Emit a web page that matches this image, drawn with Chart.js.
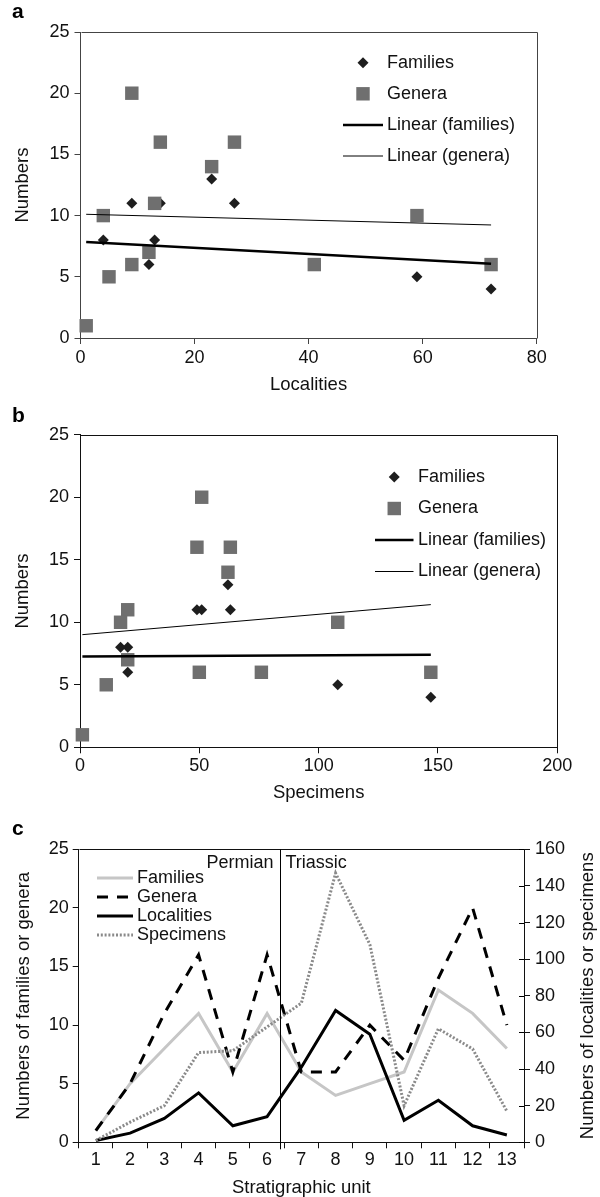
<!DOCTYPE html>
<html>
<head>
<meta charset="utf-8">
<script src="https://cdn.jsdelivr.net/npm/chart.js"></script>
<style>
body { margin: 0; background: #fff; }
#page { position: relative; width: 600px; height: 1197px; overflow: hidden; }
canvas { position: absolute; left: 0; }
</style>
</head>
<body>
<div id="page">
  <canvas id="chartA" width="600" height="400" style="top:0"></canvas>
  <canvas id="chartB" width="600" height="410" style="top:400px"></canvas>
  <canvas id="chartC" width="600" height="387" style="top:810px"></canvas>
</div>
<script>
//data, one value per stratigraphic unit
const units = ['1', '2', '3', '4', '5', '6', '7', '8', '9', '10', '11', '12', '13'];
const families = [1, 5, 8, 11, 6, 11, 6, 4, 5, 6, 13, 11, 8];
const genera = [1, 5, 11, 16, 6, 16, 6, 6, 10, 7, 14, 20, 10];
const localities = [1, 5, 13, 27, 9, 14, 41, 72, 59, 12, 23, 9, 4];
const specimens = [1, 11, 20, 49, 50, 63, 76, 147, 108, 20, 62, 51, 17];

//Permian / Triassic boundary, in stratigraphic units
const boundaryUnit = 6.38;
const periodLabels = ['Permian', 'Triassic'];

const fontFamily = "'Liberation Sans', Arial, Helvetica, sans-serif";
Chart.defaults.font.family = fontFamily;
Chart.defaults.font.size = 18;
Chart.defaults.color = '#111';
Chart.defaults.animation = false;
Chart.defaults.events = [];

const toPoints = (xs, ys) => xs.map((x, i) => ({ x: x, y: ys[i] }));

//least squares line between smallest and largest x
const trendLine = (xs, ys) => {
    const n = xs.length;
    const mx = xs.reduce((a, b) => a + b, 0) / n;
    const my = ys.reduce((a, b) => a + b, 0) / n;
    let sxy = 0, sxx = 0;
    xs.forEach((x, i) => {
        sxy += (x - mx) * (ys[i] - my);
        sxx += (x - mx) * (x - mx);
    });
    const slope = sxy / sxx;
    const lo = Math.min(...xs);
    const hi = Math.max(...xs);
    return [{ x: lo, y: my + slope * (lo - mx) }, { x: hi, y: my + slope * (hi - mx) }];
};

const px = (v) => Math.round(v) + 0.5;

//top and right side of the box
const framePlugin = (color) => ({
    id: 'frame',
    afterDatasetsDraw(chart) {
        const a = chart.chartArea;
        const c = chart.ctx;
        c.save();
        c.strokeStyle = color;
        c.lineWidth = 1;
        c.beginPath();
        c.moveTo(px(a.left), px(a.top));
        c.lineTo(px(a.right), px(a.top));
        c.lineTo(px(a.right), px(a.bottom));
        c.stroke();
        c.restore();
    }
});

//panel letter
const letterPlugin = (letter, y) => ({
    id: 'letter',
    afterDraw(chart) {
        const c = chart.ctx;
        c.save();
        c.font = 'bold 21px ' + fontFamily;
        c.fillStyle = '#000';
        c.textBaseline = 'alphabetic';
        c.fillText(letter, 12, y);
        c.restore();
    }
});

const drawMarker = (c, style, r, x, y, color) => {
    c.fillStyle = color;
    c.beginPath();
    if (style === 'rect') {
        const s = Math.SQRT1_2 * r;
        c.rect(x - s, y - s, 2 * s, 2 * s);
    } else {
        c.moveTo(x, y - r);
        c.lineTo(x + r, y);
        c.lineTo(x, y + r);
        c.lineTo(x - r, y);
        c.closePath();
    }
    c.fill();
};

//legend inside the plot area
const legendPlugin = (cfg) => ({
    id: 'insideLegend',
    afterDraw(chart) {
        const c = chart.ctx;
        const top = chart.chartArea.top;
        c.save();
        c.font = '18px ' + fontFamily;
        c.textBaseline = 'middle';
        chart.data.datasets.forEach((ds, i) => {
            const y = top + cfg.top + i * cfg.step;
            if (ds.showLine !== false && (ds.showLine || chart.config.type === 'line')) {
                c.strokeStyle = ds.borderColor;
                c.lineWidth = ds.borderWidth;
                c.setLineDash(ds.borderDash || []);
                c.beginPath();
                c.moveTo(cfg.x0, y);
                c.lineTo(cfg.x1, y);
                c.stroke();
                c.setLineDash([]);
            } else {
                drawMarker(c, ds.pointStyle, ds.pointRadius, (cfg.x0 + cfg.x1) / 2, y, ds.backgroundColor);
            }
            c.fillStyle = '#111';
            c.fillText(ds.label, cfg.textX, y);
        });
        c.restore();
    }
});

const scatterSets = (xs) => [{
    label: 'Families',
    data: toPoints(xs, families),
    pointStyle: 'rectRot',
    pointRadius: 5.5,
    backgroundColor: '#1e1e1e',
    borderWidth: 0,
    clip: false,
    order: 3
}, {
    label: 'Genera',
    data: toPoints(xs, genera),
    pointStyle: 'rect',
    pointRadius: 9.5,
    backgroundColor: '#6f6f6f',
    borderWidth: 0,
    clip: false,
    order: 2
}, {
    label: 'Linear (families)',
    data: trendLine(xs, families),
    showLine: true,
    borderColor: '#000',
    borderWidth: 2.5,
    pointRadius: 0,
    clip: false,
    order: 1
}, {
    label: 'Linear (genera)',
    data: trendLine(xs, genera),
    showLine: true,
    borderColor: '#000',
    borderWidth: 1,
    pointRadius: 0,
    clip: false,
    order: 0
}];

const scatterScales = (xMax, xStep, xTitle, frame, xHeight, yWidth, titlePad, tickPad) => ({
    x: {
        type: 'linear',
        min: 0,
        max: xMax,
        ticks: { stepSize: xStep, padding: tickPad },
        grid: { drawOnChartArea: false, tickLength: 6, color: frame },
        border: { color: frame },
        title: { display: true, text: xTitle, font: { size: 18.5 }, padding: { top: 0, bottom: titlePad } },
        afterFit: (s) => { s.height = xHeight; }
    },
    y: {
        min: 0,
        max: 25,
        ticks: { stepSize: 5, padding: 5 },
        grid: { drawOnChartArea: false, tickLength: 6, color: frame },
        border: { color: frame },
        title: { display: true, text: 'Numbers', font: { size: 18.5 }, padding: { top: 12, bottom: 0 } },
        afterFit: (s) => { s.width = yWidth; }
    }
});

//panel a, numbers against localities
const chartA = () => {
    var ctx = document.getElementById('chartA').getContext('2d');
    new Chart(ctx, {
        type: 'scatter',
        data: { datasets: scatterSets(localities) },
        options: {
            responsive: false,
            layout: { padding: { left: 0, top: 32, right: 63.3, bottom: 0 } },
            plugins: { legend: { display: false }, tooltip: { enabled: false } },
            scales: scatterScales(80, 20, 'Localities', '#444', 62, 80.5, 4, 3)
        },
        plugins: [framePlugin('#444'), letterPlugin('a', 18), legendPlugin({ x0: 343, x1: 383, textX: 387, top: 30.7, step: 31.1 })]
    });
};
chartA();

//panel b, numbers against specimens
const chartB = () => {
    var ctx = document.getElementById('chartB').getContext('2d');
    new Chart(ctx, {
        type: 'scatter',
        data: { datasets: scatterSets(specimens) },
        options: {
            responsive: false,
            layout: { padding: { left: 0, top: 34.7, right: 42.7, bottom: 0 } },
            plugins: { legend: { display: false }, tooltip: { enabled: false } },
            scales: scatterScales(200, 50, 'Specimens', '#111', 62.7, 80, 6, 2)
        },
        plugins: [framePlugin('#111'), letterPlugin('b', 21.7), legendPlugin({ x0: 375, x1: 413.5, textX: 418, top: 42.3, step: 31.5 })]
    });
};
chartB();

//boundary line with period names, and the inner half of the right ticks
const boundaryPlugin = {
    id: 'boundary',
    afterDatasetsDraw(chart) {
        const a = chart.chartArea;
        const c = chart.ctx;
        const x = px(chart.scales.x.getPixelForValue(boundaryUnit - 1));
        c.save();
        c.strokeStyle = '#000';
        c.lineWidth = 1;
        c.beginPath();
        c.moveTo(x, a.top);
        c.lineTo(x, a.bottom + 7);
        const y1 = chart.scales.y1;
        y1.ticks.forEach((t) => {
            const ty = px(y1.getPixelForValue(t.value));
            c.moveTo(a.right - 5, ty);
            c.lineTo(a.right, ty);
        });
        c.stroke();
        c.font = '18px ' + fontFamily;
        c.fillStyle = '#111';
        c.textBaseline = 'middle';
        c.textAlign = 'right';
        c.fillText(periodLabels[0], x - 7, a.top + 13.4);
        c.textAlign = 'left';
        c.fillText(periodLabels[1], x + 5, a.top + 13.4);
        c.restore();
    }
};

//right axis title reads bottom to top
const rightTitlePlugin = (text, x) => ({
    id: 'rightTitle',
    afterDraw(chart) {
        const a = chart.chartArea;
        const c = chart.ctx;
        c.save();
        c.translate(x, (a.top + a.bottom) / 2);
        c.rotate(-Math.PI / 2);
        c.font = '18.5px ' + fontFamily;
        c.fillStyle = '#111';
        c.textAlign = 'center';
        c.textBaseline = 'middle';
        c.fillText(text, 0, 0);
        c.restore();
    }
});

//panel c, counts through the section
const chartC = () => {
    var ctx = document.getElementById('chartC').getContext('2d');
    new Chart(ctx, {
        type: 'line',
        data: {
            labels: units,
            datasets: [{
                label: 'Families',
                data: families,
                yAxisID: 'y',
                borderColor: '#c6c6c6',
                borderWidth: 3,
                pointRadius: 0,
                order: 4
            }, {
                label: 'Genera',
                data: genera,
                yAxisID: 'y',
                borderColor: '#000',
                borderWidth: 3,
                borderDash: [11, 9],
                pointRadius: 0,
                order: 3
            }, {
                label: 'Localities',
                data: localities,
                yAxisID: 'y1',
                borderColor: '#000',
                borderWidth: 3,
                pointRadius: 0,
                order: 2
            }, {
                label: 'Specimens',
                data: specimens,
                yAxisID: 'y1',
                borderColor: '#8a8a8a',
                borderWidth: 3,
                borderDash: [2, 1.8],
                pointRadius: 0,
                order: 1
            }]
        },
        options: {
            responsive: false,
            layout: { padding: { left: 0, top: 39.3, right: 0, bottom: 0 } },
            plugins: { legend: { display: false }, tooltip: { enabled: false } },
            scales: {
                x: {
                    offset: true,
                    ticks: { padding: 1, maxRotation: 0, autoSkip: false },
                    grid: { offset: true, drawOnChartArea: false, tickLength: 6, color: '#111' },
                    border: { color: '#111' },
                    title: { display: true, text: 'Stratigraphic unit', font: { size: 18.5, lineHeight: 1 }, padding: { top: 0, bottom: 0 } },
                    afterFit: (s) => { s.height = 54.7; }
                },
                y: {
                    position: 'left',
                    min: 0,
                    max: 25,
                    ticks: { stepSize: 5, padding: 4 },
                    grid: { drawOnChartArea: false, tickLength: 6, color: '#111' },
                    border: { color: '#111' },
                    title: { display: true, text: 'Numbers of families or genera', font: { size: 18.5 }, padding: { top: 13, bottom: 0 } },
                    afterFit: (s) => { s.width = 78.7; }
                },
                y1: {
                    position: 'right',
                    min: 0,
                    max: 160,
                    ticks: { stepSize: 20, padding: 5 },
                    grid: { drawOnChartArea: false, tickLength: 6, color: '#111' },
                    border: { color: '#111' },
                    afterFit: (s) => { s.width = 76; }
                }
            }
        },
        plugins: [framePlugin('#111'), boundaryPlugin, letterPlugin('c', 25), rightTitlePlugin('Numbers of localities or specimens', 588),
            legendPlugin({ x0: 97, x1: 133, textX: 137, top: 28.7, step: 19 })]
    });
};
chartC();
</script>
</body>
</html>
